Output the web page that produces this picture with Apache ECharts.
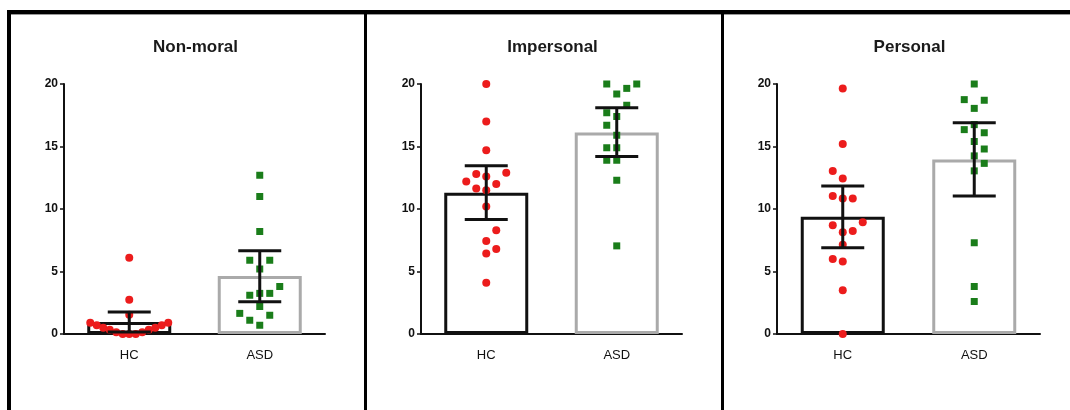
<!DOCTYPE html>
<html>
<head>
<meta charset="utf-8">
<script src="https://cdn.jsdelivr.net/npm/echarts@6/dist/echarts.min.js"></script>
<style>
  html, body { margin: 0; padding: 0; background: #fff; }
  #chart { width: 1070px; height: 410px; }
</style>
</head>
<body>
<div id="chart"></div>
<script>
// Group labels and panel titles
const categories = ['HC', 'ASD'];
const panelTitles = ['Non-moral', 'Impersonal', 'Personal'];
const yTickValues = [0, 5, 10, 15, 20];

// Individual scores per participant
const nonMoralHC = [6.1, 2.75, 1.55, 0.9, 0.9, 0.7, 0.7, 0.5, 0.5, 0.35, 0.35, 0.15, 0.15, 0, 0, 0];
const nonMoralASD = [12.7, 11.0, 8.2, 5.9, 5.9, 5.2, 3.8, 3.25, 3.1, 3.25, 2.2, 1.65, 1.5, 1.1, 0.7];
const impersonalHC = [20, 17, 14.7, 12.9, 12.8, 12.6, 12.2, 12.0, 11.65, 11.5, 10.2, 8.3, 7.45, 6.8, 6.45, 4.1];
const impersonalASD = [20, 20, 19.65, 19.2, 18.3, 17.7, 17.4, 16.7, 15.9, 14.9, 14.9, 13.9, 13.9, 12.3, 7.05];
const personalHC = [19.65, 15.2, 13.05, 12.45, 11.05, 10.85, 10.85, 8.95, 8.7, 8.25, 8.15, 7.15, 6.0, 5.8, 3.5, 0];
const personalASD = [20, 18.75, 18.7, 18.05, 16.75, 16.35, 16.1, 15.4, 14.8, 14.25, 13.65, 13.05, 7.3, 3.8, 2.6];

// Group means [HC, ASD] per panel
const nonMoralMeans = [0.96, 4.64];
const impersonalMeans = [11.3, 16.13];
const personalMeans = [9.39, 13.97];

// Error bar bounds [HC, ASD] per panel
const nonMoralLower = [0.16, 2.59];
const nonMoralUpper = [1.76, 6.67];
const impersonalLower = [9.17, 14.2];
const impersonalUpper = [13.47, 18.1];
const personalLower = [6.9, 11.04];
const personalUpper = [11.84, 16.9];

const panels = [
  { title: panelTitles[0], points: [nonMoralHC, nonMoralASD], means: nonMoralMeans, lower: nonMoralLower, upper: nonMoralUpper },
  { title: panelTitles[1], points: [impersonalHC, impersonalASD], means: impersonalMeans, lower: impersonalLower, upper: impersonalUpper },
  { title: panelTitles[2], points: [personalHC, personalASD], means: personalMeans, lower: personalLower, upper: personalUpper }
];

// Layout
const FONT = "'Liberation Sans', Arial, sans-serif";
const gridLefts = [64, 421, 777];
const gridWidths = [261, 261, 263];
const GRID_TOP = 84;
const GRID_HEIGHT = 250;
const Y_MAX = 20;
const PX_PER_Y = GRID_HEIGHT / Y_MAX;
const RED = '#ec1c1c';
const GREEN = '#1a7d1a';

// Spread points sideways in rows: two points collide when they are closer
// than w pixels across and h pixels down. Lowest values are placed first.
function swarmOnce(vals, w, h) {
  const order = vals.map((v, i) => i).sort((a, b) => vals[a] - vals[b]);
  const placed = [];
  const out = new Array(vals.length);
  const clear = (x, y) => placed.every(p => Math.abs(p.x - x) >= w || Math.abs(p.y - y) >= h);
  order.forEach((idx, n) => {
    const y = vals[idx] * PX_PER_Y;
    const sign = n % 2 === 0 ? 1 : -1;
    let found = null;
    for (let k = 0; k < 400 && found === null; k++) {
      const cands = k === 0 ? [0] : [sign * k * 0.5, -sign * k * 0.5];
      for (const x of cands) {
        if (clear(x, y)) { found = x; break; }
      }
    }
    placed.push({ x: found, y });
    out[idx] = found;
  });
  return out;
}

// Narrow the spacing until the column fits in +-maxHalf pixels
function swarmOffsets(vals, maxHalf) {
  let offs = null;
  for (let w = 10; w >= 4; w -= 0.5) {
    offs = swarmOnce(vals, w, 12);
    if (Math.max(...offs.map(Math.abs)) <= maxHalf) break;
  }
  return offs;
}

const grids = [], xAxes = [], yAxes = [], series = [], titles = [];

panels.forEach((p, gi) => {
  grids.push({ left: gridLefts[gi], top: GRID_TOP, width: gridWidths[gi], height: GRID_HEIGHT, containLabel: false });
  titles.push({
    text: p.title,
    left: gridLefts[gi] + gridWidths[gi] / 2 + 1,
    top: 39,
    textAlign: 'center',
    padding: 0,
    textStyle: { fontFamily: FONT, fontSize: 17, fontWeight: 'bold', color: '#1a1a1a' }
  });
  // category axis for bars and labels
  xAxes.push({
    type: 'category', gridIndex: gi, data: categories, boundaryGap: true,
    axisLine: { lineStyle: { color: '#111', width: 2 } },
    axisTick: { alignWithLabel: true, length: 5, lineStyle: { color: '#111', width: 1.5 } },
    axisLabel: { fontFamily: FONT, fontSize: 13, color: '#111', margin: 15 }
  });
  // hidden value axis for placing the spread points
  xAxes.push({
    type: 'value', gridIndex: gi, min: 0, max: 2, show: false
  });
  yAxes.push({
    type: 'value', gridIndex: gi, min: 0, max: Y_MAX, interval: 5,
    splitLine: { show: false },
    axisLine: { show: true, lineStyle: { color: '#111', width: 2 } },
    axisTick: { show: true, length: 4, lineStyle: { color: '#111', width: 1.5 } },
    axisLabel: {
      fontFamily: FONT, fontSize: 12, fontWeight: 'bold', color: '#111', margin: 6,
      formatter: v => (yTickValues.indexOf(v) >= 0 ? String(v) : '')
    }
  });

  const catAxis = gi * 2, valAxis = gi * 2 + 1;

  // mean bars
  series.push({
    type: 'bar', xAxisIndex: catAxis, yAxisIndex: gi, barWidth: 84, z: 1,
    data: p.means.map((m, ci) => ({
      value: m,
      itemStyle: { color: '#fff', borderColor: ci === 0 ? '#111' : '#aaaaaa', borderWidth: 3 }
    })),
    silent: true
  });

  // individual points
  const pxPerX = gridWidths[gi] / 2;
  p.points.forEach((vals, ci) => {
    const offs = swarmOffsets(vals, 40);
    series.push({
      type: 'scatter', xAxisIndex: valAxis, yAxisIndex: gi, z: 2,
      symbol: ci === 0 ? 'circle' : 'rect',
      symbolSize: ci === 0 ? 8 : 7,
      itemStyle: { color: ci === 0 ? RED : GREEN, opacity: 1 },
      data: vals.map((v, i) => [ci + 0.5 + offs[i] / pxPerX, v]),
      silent: true
    });
  });

  // error bars
  series.push({
    type: 'custom', xAxisIndex: catAxis, yAxisIndex: gi, z: 3, silent: true,
    data: categories.map((c, ci) => [ci, p.lower[ci], p.upper[ci]]),
    renderItem: (params, api) => {
      const lo = api.coord([api.value(0), api.value(1)]);
      const hi = api.coord([api.value(0), api.value(2)]);
      const half = 21.5;
      const style = { stroke: '#111', lineWidth: 3, fill: null };
      return {
        type: 'group',
        children: [
          { type: 'line', shape: { x1: lo[0], y1: lo[1], x2: hi[0], y2: hi[1] }, style },
          { type: 'line', shape: { x1: lo[0] - half, y1: lo[1], x2: lo[0] + half, y2: lo[1] }, style },
          { type: 'line', shape: { x1: hi[0] - half, y1: hi[1], x2: hi[0] + half, y2: hi[1] }, style }
        ]
      };
    }
  });
});

const chart = echarts.init(document.getElementById('chart'), null, { renderer: 'canvas' });
chart.setOption({
  backgroundColor: '#fff',
  animation: false,
  title: titles,
  grid: grids,
  xAxis: xAxes,
  yAxis: yAxes,
  series: series,
  // panel frame: top rule, outer left edge and dividers
  graphic: [
    { type: 'rect', shape: { x: 7, y: 10, width: 1063, height: 4 }, style: { fill: '#000' }, silent: true },
    { type: 'rect', shape: { x: 7, y: 14, width: 1063, height: 1 }, style: { fill: '#999' }, silent: true },
    { type: 'rect', shape: { x: 7, y: 10, width: 4, height: 400 }, style: { fill: '#000' }, silent: true },
    { type: 'rect', shape: { x: 364, y: 10, width: 3, height: 400 }, style: { fill: '#000' }, silent: true },
    { type: 'rect', shape: { x: 721, y: 10, width: 3, height: 400 }, style: { fill: '#000' }, silent: true }
  ]
});
</script>
</body>
</html>
